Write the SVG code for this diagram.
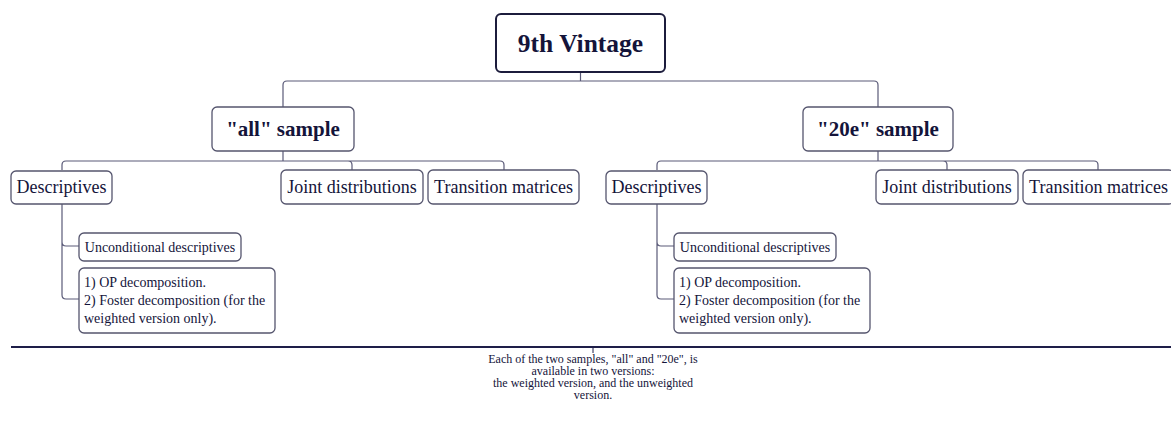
<svg xmlns="http://www.w3.org/2000/svg" width="1171" height="425" viewBox="0 0 1171 425">
<style>
text{font-family:"Liberation Serif","Times New Roman",serif;fill:#14143a}
.node{fill:#fff;stroke:#55556e;stroke-width:1.3}
.root{fill:#fff;stroke:#1c1c3c;stroke-width:2}
.b{font-weight:bold}
.m{text-anchor:middle}
.c{fill:none;stroke:#5a5a78;stroke-width:1.2}
</style>
<rect width="1171" height="425" fill="#fff"/>
<g id="connectors">
<path class="c" d="M580.5,72 V81 M287,81 H874 M287,81 Q283,81 283,85 V107 M874,81 Q878,81 878,85 V107"/>
<path class="c" d="M283,151 V161 M62,170 V165 Q62,161 66,161 H348 Q352,161 352,165 V170 M348,161 H500 Q504,161 504,165 V170"/>
<path class="c" d="M62,204 V242 Q62,246 66,246 H79 M62,242 V295 Q62,299 66,299 H79"/>
<path class="c" d="M878,151 V161 M657,170 V165 Q657,161 661,161 H943 Q947,161 947,165 V170 M943,161 H1094 Q1098,161 1098,165 V170"/>
<path class="c" d="M657,204 V242 Q657,246 661,246 H674 M657,242 V295 Q657,299 661,299 H674"/>
<path d="M11,347 H1171" stroke="#1e1e48" stroke-width="2" fill="none"/>
<path d="M593,347 V353" stroke="#1e1e48" stroke-width="1" fill="none"/>
</g>
<g id="root">
<rect class="root" x="496" y="14" width="169" height="58" rx="5"/>
<text class="b m" x="580.5" y="52" font-size="25.5">9th Vintage</text>
</g>
<g id="all-sample">
<rect class="node" x="212" y="107" width="142" height="44" rx="5"/>
<text class="b m" x="283" y="136" font-size="21">"all" sample</text>
</g>
<g id="all-descriptives">
<rect class="node" x="11" y="171" width="101" height="33" rx="5"/>
<text class="m" x="61.5" y="193" font-size="18">Descriptives</text>
</g>
<g id="all-joint">
<rect class="node" x="281" y="170" width="142" height="34" rx="5"/>
<text class="m" x="352" y="193" font-size="18">Joint distributions</text>
</g>
<g id="all-transition">
<rect class="node" x="428" y="170" width="151" height="34" rx="5"/>
<text class="m" x="503.5" y="193" font-size="18">Transition matrices</text>
</g>
<g id="all-unconditional">
<rect class="node" x="79" y="233" width="162" height="28" rx="5"/>
<text class="m" x="160" y="252" font-size="14">Unconditional descriptives</text>
</g>
<g id="all-decomposition">
<rect class="node" x="79" y="268" width="196" height="65" rx="5"/>
<text x="84" y="287" font-size="14">1) OP decomposition.</text>
<text x="84" y="305" font-size="14">2) Foster decomposition (for the</text>
<text x="84" y="323" font-size="14">weighted version only).</text>
</g>
<g id="e20-sample">
<rect class="node" x="803" y="107" width="150" height="44" rx="5"/>
<text class="b m" x="878" y="136" font-size="21">"20e" sample</text>
</g>
<g id="e20-descriptives">
<rect class="node" x="606" y="171" width="101" height="33" rx="5"/>
<text class="m" x="656.5" y="193" font-size="18">Descriptives</text>
</g>
<g id="e20-joint">
<rect class="node" x="876" y="170" width="142" height="34" rx="5"/>
<text class="m" x="947" y="193" font-size="18">Joint distributions</text>
</g>
<g id="e20-transition">
<rect class="node" x="1023" y="170" width="151" height="34" rx="5"/>
<text class="m" x="1098.5" y="193" font-size="18">Transition matrices</text>
</g>
<g id="e20-unconditional">
<rect class="node" x="674" y="233" width="162" height="28" rx="5"/>
<text class="m" x="755" y="252" font-size="14">Unconditional descriptives</text>
</g>
<g id="e20-decomposition">
<rect class="node" x="674" y="268" width="196" height="65" rx="5"/>
<text x="679" y="287" font-size="14">1) OP decomposition.</text>
<text x="679" y="305" font-size="14">2) Foster decomposition (for the</text>
<text x="679" y="323" font-size="14">weighted version only).</text>
</g>
<g id="note">
<text class="m" x="593" y="363" font-size="12">Each of the two samples, "all" and "20e", is</text>
<text class="m" x="593" y="375" font-size="12">available in two versions:</text>
<text class="m" x="593" y="387" font-size="12">the weighted version, and the unweighted</text>
<text class="m" x="593" y="399" font-size="12">version.</text>
</g>
</svg>
